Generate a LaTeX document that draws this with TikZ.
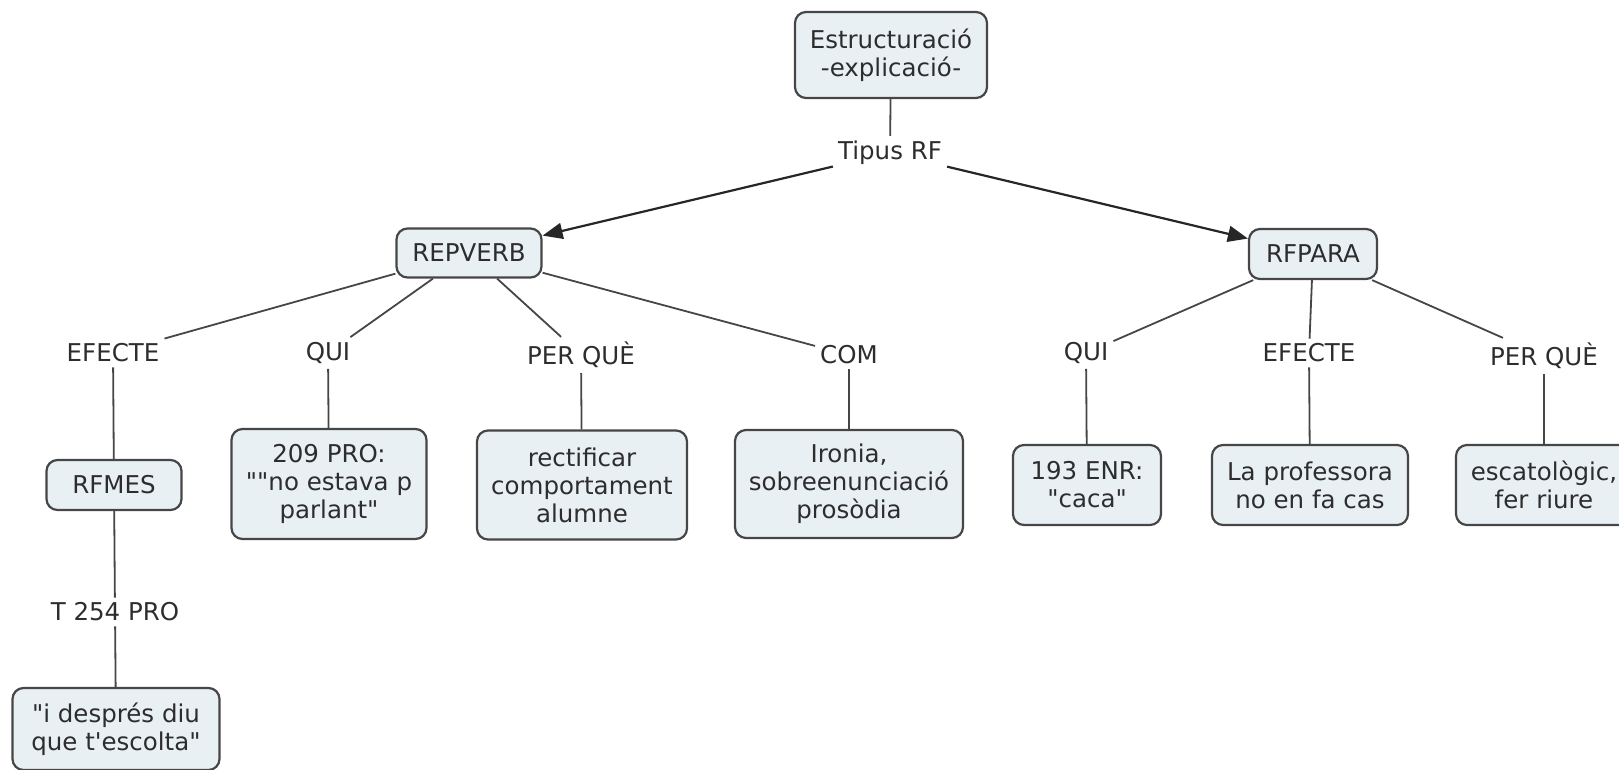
\documentclass[tikz,border=0pt]{standalone}
\usepackage{fontspec}
\setmainfont{DejaVu Sans}[Ligatures=TeXOff]
\usetikzlibrary{arrows.meta}
\definecolor{boxfill}{RGB}{233,240,244}
\definecolor{ink}{RGB}{45,45,45}
\definecolor{edge}{RGB}{70,70,70}
\begin{document}
\begin{tikzpicture}[x=1pt,y=-1pt,
  every node/.style={font=\fontsize{24.5}{28}\selectfont, text=ink},
  concept/.style={draw=edge, line width=2.2pt, fill=boxfill, rounded corners=11pt, align=center, inner sep=0pt},
  linklabel/.style={inner sep=5pt},
  link/.style={draw=edge, line width=1.8pt},
  arrowlink/.style={draw=black!85, line width=2.2pt, -{Triangle[length=20pt,width=16pt]}}]
\useasboundingbox (0,0) rectangle (1619,769);

% root and first split
\node[concept, minimum width=192pt, minimum height=86pt] (root) at (891,55) {Estructuració\\-explicació-};
\node[linklabel] (tipus) at (890,153) {Tipus RF};
\node[concept, minimum width=145pt, minimum height=49pt] (repverb) at (469,253) {REPVERB};
\node[concept, minimum width=128pt, minimum height=50pt] (rfpara) at (1313,254) {RFPARA};

% linking phrases under REPVERB
\node[linklabel] (efecteA) at (113,353) {EFECTE};
\node[linklabel] (quiA) at (328,353) {QUI};
\node[linklabel] (perqueA) at (581,355) {PER QUÈ};
\node[linklabel] (com) at (849,355) {COM};

% linking phrases under RFPARA
\node[linklabel] (quiB) at (1086,353) {QUI};
\node[linklabel] (efecteB) at (1309,353) {EFECTE};
\node[linklabel] (perqueB) at (1544,356) {PER QUÈ};

% leaf concepts
\node[concept, minimum width=135pt, minimum height=50pt] (rfmes) at (114,485) {RFMES};
\node[concept, minimum width=195pt, minimum height=110pt] (pro209) at (329,484) {209 PRO:\\""no estava p\\parlant"};
\node[concept, minimum width=210pt, minimum height=109pt] (rectificar) at (582,485) {rectificar\\comportament\\alumne};
\node[concept, minimum width=228pt, minimum height=108pt] (ironia) at (849,484) {Ironia,\\sobreenunciació\\prosòdia};
\node[concept, minimum width=148pt, minimum height=80pt] (enr193) at (1087,485) {193 ENR:\\"caca"};
\node[concept, minimum width=196pt, minimum height=80pt] (professora) at (1310,485) {La professora\\no en fa cas};
\node[concept, minimum width=176pt, minimum height=80pt] (escatologic) at (1544,485) {escatològic,\\fer riure};

% RFMES branch
\node[linklabel] (t254) at (115,612) {T 254 PRO};
\node[concept, minimum width=207pt, minimum height=82pt] (despres) at (116,729) {"i després diu\\que t'escolta"};

% connectors
\draw[link] (root) -- (tipus);
\draw[arrowlink] (tipus) -- (repverb);
\draw[arrowlink] (tipus) -- (rfpara);

\draw[link] (repverb) -- (efecteA);
\draw[link] (repverb) -- (quiA);
\draw[link] (repverb) -- (perqueA);
\draw[link] (repverb) -- (com);

\draw[link] (rfpara) -- (quiB);
\draw[link] (rfpara) -- (efecteB);
\draw[link] (rfpara) -- (perqueB);

\draw[link] (efecteA) -- (rfmes);
\draw[link] (quiA) -- (pro209);
\draw[link] (perqueA) -- (rectificar);
\draw[link] (com) -- (ironia);
\draw[link] (quiB) -- (enr193);
\draw[link] (efecteB) -- (professora);
\draw[link] (perqueB) -- (escatologic);

\draw[link] (rfmes) -- (t254);
\draw[link] (t254) -- (despres);
\end{tikzpicture}
\end{document}
